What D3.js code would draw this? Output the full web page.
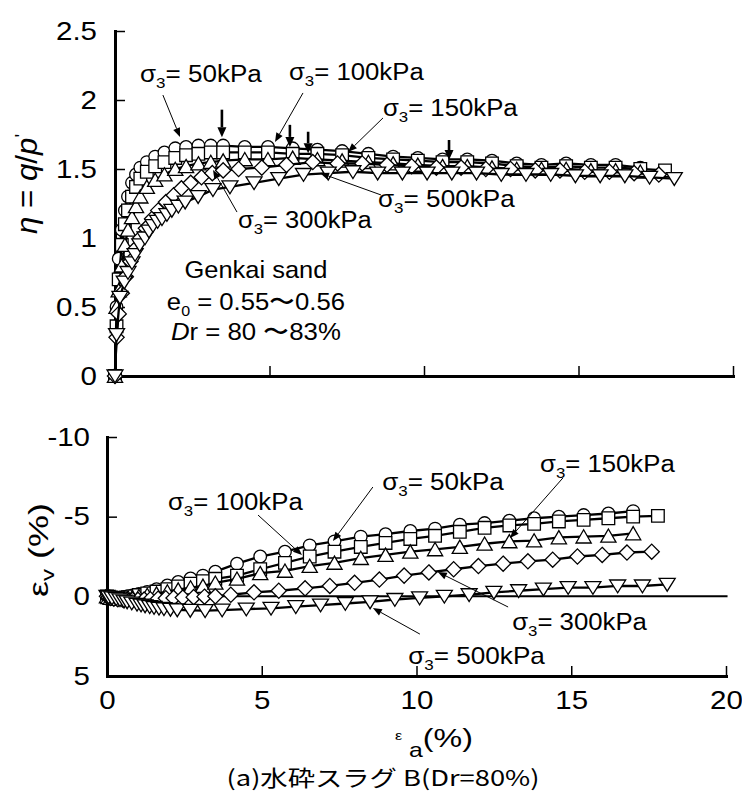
<!DOCTYPE html>
<html>
<head>
<meta charset="utf-8">
<script src="https://cdn.jsdelivr.net/npm/d3@7"></script>
<style>
    body { margin: 0; background: #fff; }
    svg { display: block; }
    text { font-family: "Liberation Sans", Arial, sans-serif; fill: #000; }
</style>
</head>
<body>
<div id="container"></div>
<script>
// ==================== data ==================== //

// axial strain (%) of each plotted point, per confining pressure
const strain50 = [0, 0.05, 0.12, 0.22, 0.32, 0.42, 0.55, 0.68, 0.82, 1.03, 1.3, 1.6, 1.95, 2.3, 2.7, 3.1, 3.5, 4.2, 4.95, 5.75, 6.55, 7.35, 8.2, 9.0, 9.8, 10.6, 11.4, 12.2, 13.0, 13.8, 14.6, 15.4, 16.2, 17.0];
const strain100 = [0, 0.05, 0.12, 0.22, 0.32, 0.42, 0.55, 0.68, 0.82, 1.03, 1.3, 1.6, 1.95, 2.3, 2.7, 3.1, 3.5, 4.2, 4.95, 5.75, 6.55, 7.35, 8.2, 9.0, 9.8, 10.6, 11.4, 12.2, 13.0, 13.8, 14.6, 15.4, 16.2, 17.0, 17.8];
const strain150 = [0, 0.05, 0.12, 0.22, 0.32, 0.42, 0.55, 0.68, 0.82, 1.03, 1.3, 1.6, 1.95, 2.3, 2.7, 3.1, 3.5, 4.2, 4.95, 5.75, 6.55, 7.35, 8.2, 9.0, 9.8, 10.6, 11.4, 12.2, 13.0, 13.8, 14.6, 15.4, 16.2, 17.0];
const strain300 = [0, 0.05, 0.12, 0.22, 0.35, 0.5, 0.65, 0.82, 1.0, 1.2, 1.4, 1.65, 1.9, 2.15, 2.45, 2.8, 3.15, 3.5, 4.0, 4.75, 5.55, 6.4, 7.2, 8.0, 8.8, 9.6, 10.4, 11.2, 12.0, 12.8, 13.6, 14.4, 15.2, 16.0, 16.8, 17.6];
const strain500 = [0, 0.05, 0.16, 0.3, 0.42, 0.55, 0.65, 0.8, 0.97, 1.1, 1.23, 1.38, 1.52, 1.68, 1.84, 2.05, 2.27, 2.69, 3.17, 3.72, 4.5, 5.3, 6.1, 6.9, 7.7, 8.5, 9.3, 10.1, 10.9, 11.7, 12.5, 13.3, 14.1, 14.9, 15.7, 16.5, 17.3, 18.1];

// stress ratio eta = q/p'
const eta50 = [0, 0.5, 0.85, 1.06, 1.2, 1.3, 1.4, 1.46, 1.51, 1.55, 1.59, 1.62, 1.65, 1.66, 1.67, 1.67, 1.67, 1.66, 1.66, 1.65, 1.64, 1.63, 1.61, 1.59, 1.58, 1.57, 1.57, 1.56, 1.54, 1.53, 1.54, 1.53, 1.53, 1.51];
const eta100 = [0, 0.36, 0.7, 0.95, 1.1, 1.2, 1.3, 1.37, 1.43, 1.48, 1.52, 1.55, 1.58, 1.6, 1.61, 1.62, 1.62, 1.62, 1.62, 1.61, 1.61, 1.6, 1.58, 1.57, 1.56, 1.55, 1.55, 1.54, 1.52, 1.51, 1.52, 1.51, 1.51, 1.5, 1.49];
const eta150 = [0, 0.5, 0.62, 0.8, 0.95, 1.06, 1.15, 1.23, 1.3, 1.37, 1.42, 1.46, 1.5, 1.52, 1.54, 1.55, 1.56, 1.57, 1.57, 1.58, 1.57, 1.56, 1.55, 1.54, 1.53, 1.52, 1.52, 1.51, 1.5, 1.5, 1.5, 1.49, 1.49, 1.48];
const eta300 = [0, 0.28, 0.45, 0.6, 0.72, 0.83, 0.92, 1.0, 1.07, 1.14, 1.2, 1.26, 1.31, 1.36, 1.4, 1.44, 1.47, 1.49, 1.5, 1.51, 1.53, 1.55, 1.54, 1.54, 1.53, 1.52, 1.51, 1.51, 1.5, 1.5, 1.49, 1.49, 1.48, 1.48, 1.47, 1.46];
const eta500 = [0, 0.3, 0.57, 0.68, 0.75, 0.82, 0.88, 0.95, 1.0, 1.05, 1.09, 1.12, 1.14, 1.17, 1.2, 1.23, 1.26, 1.3, 1.35, 1.37, 1.4, 1.43, 1.46, 1.47, 1.48, 1.47, 1.47, 1.47, 1.47, 1.47, 1.46, 1.46, 1.46, 1.45, 1.45, 1.45, 1.44, 1.43];

// volumetric strain (%), negative = dilation
const ev50 = [0, 0.05, 0.08, 0.1, 0.1, 0.08, 0.04, 0, -0.05, -0.15, -0.28, -0.45, -0.68, -0.9, -1.12, -1.3, -1.55, -2.05, -2.5, -2.8, -3.2, -3.45, -3.75, -3.9, -4.1, -4.25, -4.5, -4.6, -4.75, -4.9, -5.0, -5.1, -5.2, -5.35];
const ev100 = [0, 0.05, 0.1, 0.12, 0.12, 0.1, 0.08, 0.05, 0, -0.08, -0.18, -0.3, -0.45, -0.62, -0.8, -0.95, -1.1, -1.3, -1.7, -2.1, -2.5, -2.8, -3.1, -3.35, -3.6, -3.8, -4.05, -4.3, -4.45, -4.55, -4.7, -4.8, -4.9, -5.0, -5.05];
const ev150 = [0, 0.05, 0.1, 0.12, 0.13, 0.12, 0.1, 0.08, 0.05, 0, -0.08, -0.17, -0.3, -0.42, -0.55, -0.65, -0.85, -1.1, -1.45, -1.6, -1.9, -2.1, -2.4, -2.6, -2.8, -2.95, -3.1, -3.3, -3.45, -3.5, -3.7, -3.75, -3.8, -3.95];
const ev300 = [0, 0.05, 0.1, 0.15, 0.18, 0.2, 0.22, 0.22, 0.22, 0.2, 0.18, 0.15, 0.12, 0.1, 0.08, 0.05, 0.02, 0, -0.1, -0.25, -0.35, -0.5, -0.65, -0.85, -1.05, -1.3, -1.5, -1.7, -1.9, -2.05, -2.2, -2.3, -2.5, -2.6, -2.75, -2.8];
const ev500 = [0, 0.05, 0.1, 0.15, 0.22, 0.3, 0.35, 0.42, 0.5, 0.55, 0.6, 0.65, 0.7, 0.75, 0.78, 0.82, 0.85, 0.88, 0.9, 0.86, 0.8, 0.75, 0.65, 0.55, 0.45, 0.35, 0.2, 0.1, 0, -0.1, -0.25, -0.35, -0.45, -0.55, -0.55, -0.65, -0.65, -0.75];

const etaTicks = [0, 0.5, 1, 1.5, 2, 2.5];
const evTicks = [-10, -5, 0, 5];
const strainTicks = [0, 5, 10, 15, 20];

const series = [
    { strain: strain50, eta: eta50, ev: ev50, shape: "circle" },
    { strain: strain100, eta: eta100, ev: ev100, shape: "square" },
    { strain: strain150, eta: eta150, ev: ev150, shape: "triangleUp" },
    { strain: strain300, eta: eta300, ev: ev300, shape: "diamond" },
    { strain: strain500, eta: eta500, ev: ev500, shape: "triangleDown" }
];

// ==================== layout ==================== //

const W = 742, H = 799;
const SX = 1.18; // the original lettering is wide

const xTop = d3.scaleLinear().domain([0, 20]).range([115, 733]);
const yTop = d3.scaleLinear().domain([0, 2.5]).range([376, 31]);
const xBot = d3.scaleLinear().domain([0, 20]).range([107, 726]);
const yBot = d3.scaleLinear().domain([-10, 5]).range([437, 676]);

const shapes = {
    circle: "M6.3,0A6.3,6.3 0 1,1 -6.3,0A6.3,6.3 0 1,1 6.3,0Z",
    square: "M-6.3,-6.3H6.3V6.3H-6.3Z",
    triangleUp: "M0,-6.8L7.6,6.4H-7.6Z",
    diamond: "M0,-7.6L7.6,0L0,7.6L-7.6,0Z",
    triangleDown: "M-8,-6H8L0,6.8Z"
};

const svg = d3.select("#container")
    .append("svg")
    .attr("width", W)
    .attr("height", H);

// ==================== helpers ==================== //

function styleAxis(g, padX, padY) {
    g.attr("font-size", null).attr("font-family", null);
    g.select(".domain").attr("stroke-width", 3).attr("stroke-linecap", "square");
    g.selectAll(".tick line").attr("stroke-width", 1.5);
    g.selectAll(".tick text")
        .attr("font-size", 25)
        .attr("transform", `scale(${SX},1)`)
        .attr("x", padX / SX);
    if (padY !== undefined) g.selectAll(".tick text").attr("y", padY).attr("dy", "0.71em");
}

// parts: [{t, size, off, it}] ; off = baseline offset of that part
function label(parent, x, y, parts, o = {}) {
    const size = o.size || 23;
    const g = parent.append("g")
        .attr("transform", `translate(${x},${y})` + (o.rotate ? ` rotate(${o.rotate})` : ""));
    const inner = g.append("g");
    const t = inner.append("text")
        .attr("font-size", size)
        .attr("text-anchor", o.anchor || "start");
    if (o.font) t.style("font-family", o.font);
    let shift = 0;
    parts.forEach(p => {
        const off = p.off || 0;
        const ts = t.append("tspan").text(p.t).attr("dy", off - shift);
        shift = off;
        if (p.size) ts.attr("font-size", p.size);
        if (p.it) ts.attr("font-style", "italic");
    });
    let sx = o.sx || SX;
    if (o.width) sx = o.width / t.node().getBBox().width;
    inner.attr("transform", `scale(${sx},1)`);
}

function sigma(kpa) {
    return [{ t: "σ" }, { t: "3", size: 15, off: 6 }, { t: "= " + kpa + "kPa" }];
}

function arrow(g, x1, y1, x2, y2, w, head, half) {
    const a = Math.atan2(y2 - y1, x2 - x1);
    const bx = x2 - head * Math.cos(a), by = y2 - head * Math.sin(a);
    g.append("line")
        .attr("x1", x1).attr("y1", y1).attr("x2", bx).attr("y2", by)
        .attr("stroke", "#000").attr("stroke-width", w);
    const px = -Math.sin(a) * half, py = Math.cos(a) * half;
    g.append("path")
        .attr("d", `M${x2},${y2}L${bx + px},${by + py}L${bx - px},${by - py}Z`)
        .attr("fill", "#000");
}

function drawSeries(g, x, y, key) {
    series.forEach(s => {
        const pts = s.strain.map((e, i) => [e, s[key][i]]);
        g.append("path")
            .datum(pts)
            .attr("d", d3.line().x(d => x(d[0])).y(d => y(d[1])))
            .attr("fill", "none")
            .attr("stroke", "#000")
            .attr("stroke-width", 2.3);
        g.append("g")
            .selectAll("path")
            .data(pts)
            .join("path")
            .attr("d", shapes[s.shape])
            .attr("transform", d => `translate(${x(d[0])},${y(d[1])})`)
            .attr("fill", "#fff")
            .attr("stroke", "#000")
            .attr("stroke-width", 1.3);
    });
}

// ==================== top panel: eta ==================== //

svg.append("g")
    .attr("transform", `translate(${xTop(0)},0)`)
    .call(d3.axisLeft(yTop).tickValues(etaTicks).tickSize(-10).tickSizeOuter(0).tickPadding(18).tickFormat(d => String(d)))
    .call(g => styleAxis(g, -18));

svg.append("g")
    .attr("transform", `translate(0,${yTop(0)})`)
    .call(d3.axisBottom(xTop).tickValues([5, 10, 15, 20]).tickSize(-10).tickSizeOuter(0).tickFormat(""))
    .call(g => styleAxis(g, 0));

const topG = svg.append("g");
drawSeries(topG, xTop, yTop, "eta");

// peak markers
[[3.46, 1.93, 1.73], [5.66, 1.82, 1.66], [6.25, 1.77, 1.615], [10.81, 1.71, 1.565]].forEach(([e, a, b]) =>
    arrow(topG, xTop(e), yTop(a), xTop(e), yTop(b), 2.6, 10, 4.5));

// leaders
[[1.55, 2.036, 2.104, 1.732], [6.084, 2.051, 5.178, 1.696], [8.673, 1.87, 7.54, 1.623],
 [3.948, 1.188, 3.172, 1.493], [8.608, 1.312, 6.634, 1.471]].forEach(([a, b, c, d]) =>
    arrow(topG, xTop(a), yTop(b), xTop(c), yTop(d), 1, 9, 3.6));

label(topG, xTop(0.81), yTop(2.13), sigma(50), { width: 122 });
label(topG, xTop(5.63), yTop(2.145), sigma(100), { width: 135 });
label(topG, xTop(8.67), yTop(1.884), sigma(150), { width: 135 });
label(topG, xTop(3.98), yTop(1.072), sigma(300), { width: 134 });
label(topG, xTop(8.51), yTop(1.225), sigma(500), { width: 137 });

label(topG, xTop(4.56), yTop(0.71), [{ t: "Genkai sand" }], { anchor: "middle", size: 24, width: 143 });
label(topG, xTop(4.56), yTop(0.478), [{ t: "e" }, { t: "0", size: 15, off: 6 }, { t: " = 0.55〜0.56" }], { anchor: "middle", size: 24, width: 178 });
label(topG, xTop(4.56), yTop(0.26), [{ t: "D", it: true }, { t: "r = 80 〜83%" }], { anchor: "middle", size: 24, width: 170 });

label(svg, 37, 184, [{ t: "η", it: true }, { t: " = " }, { t: "q", it: true }, { t: "/" }, { t: "p", it: true }, { t: "'", off: -9, size: 18 }],
    { anchor: "middle", size: 30, rotate: -90, width: 100 });

// ==================== bottom panel: volumetric strain ==================== //

svg.append("g")
    .attr("transform", `translate(${xBot(0)},0)`)
    .call(d3.axisLeft(yBot).tickValues(evTicks).tickSize(-10).tickSizeOuter(0).tickPadding(17).tickFormat(d => String(d)))
    .call(g => styleAxis(g, -17));

svg.append("g")
    .attr("transform", `translate(0,${yBot(5)})`)
    .call(d3.axisBottom(xBot).tickValues(strainTicks).tickSize(-10).tickSizeOuter(0).tickPadding(16).tickFormat(d => String(d)))
    .call(g => styleAxis(g, 0, 15));

svg.append("line")
    .attr("x1", xBot(0)).attr("x2", xBot(20.05))
    .attr("y1", yBot(0)).attr("y2", yBot(0))
    .attr("stroke", "#000").attr("stroke-width", 2);

const botG = svg.append("g");
drawSeries(botG, xBot, yBot, "ev");

[[4.88, -5.1, 6.3, -2.59], [8.59, -6.86, 7.3, -3.47], [14.73, -7.43, 13.02, -3.66],
 [12.96, 0.67, 10.69, -1.53], [10.11, 2.37, 8.59, 0.73]].forEach(([a, b, c, d]) =>
    arrow(botG, xBot(a), yBot(b), xBot(c), yBot(d), 1, 9, 3.6));

label(botG, xBot(1.97), yBot(-5.42), sigma(100), { width: 135 });
label(botG, xBot(8.89), yBot(-6.67), sigma(50), { width: 122 });
label(botG, xBot(13.99), yBot(-7.8), sigma(150), { width: 135 });
label(botG, xBot(13.09), yBot(2.12), sigma(300), { width: 135 });
label(botG, xBot(9.73), yBot(4.25), sigma(500), { width: 137 });

label(svg, 48, 550, [{ t: "ε", size: 27 }, { t: "v", size: 18, off: 6 }, { t: " (%)", size: 27 }],
    { anchor: "middle", size: 27, rotate: -90, width: 94 });

label(svg, 395, 747, [{ t: "ε", size: 13, off: -7 }, { t: " a", size: 20, off: 10 }, { t: "(%)", size: 26 }],
    { size: 26, width: 78 });

label(svg, 383, 786, [{ t: "(a)水砕スラグ B(Dr=80%)" }],
    { anchor: "middle", size: 22, width: 313, font: "'Noto Sans CJK JP', sans-serif" });
</script>
</body>
</html>
